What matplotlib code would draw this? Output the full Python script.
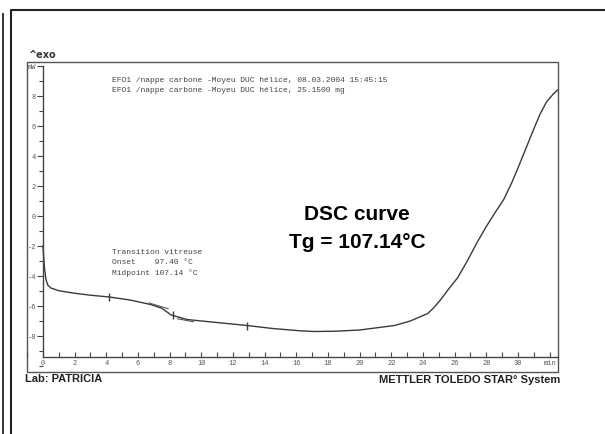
import numpy as np
import matplotlib.pyplot as plt
from matplotlib.patches import Rectangle
from matplotlib.lines import Line2D
from matplotlib.ticker import MultipleLocator, FixedLocator

# DSC curve (time in min, heat flow in mW)
time_min = [0.0, 0.08, 0.18, 0.3, 0.5, 1.0, 2.0, 3.0, 4.2, 5.5, 6.8, 7.5, 8.1,
            9.1, 10.5, 12.9, 14.5, 16.2, 17.1, 18.5, 20.0, 22.2, 23.2, 24.3,
            24.7, 25.1, 25.6, 26.2, 26.8, 27.4, 28.0, 28.6, 29.1, 29.6, 30.0,
            30.5, 31.0, 31.4, 31.8, 32.2, 32.5]
heat_flow = [-2.0, -3.3, -4.2, -4.6, -4.8, -4.98, -5.15, -5.28, -5.4, -5.6, -5.9,
             -6.15, -6.6, -6.9, -7.05, -7.3, -7.5, -7.65, -7.7, -7.68, -7.6,
             -7.3, -7.0, -6.5, -6.1, -5.6, -4.9, -4.1, -3.0, -1.8, -0.7, 0.3,
             1.1, 2.2, 3.2, 4.5, 5.8, 6.8, 7.6, 8.1, 8.4]

# small evaluation marks and tangents drawn on the curve
mark_t = [4.2, 8.2, 12.9]
mark_y = [-5.4, -6.6, -7.3]
tangent1_t = [6.7, 7.9]
tangent1_y = [-5.8, -6.18]
tangent2_t = [8.5, 9.5]
tangent2_y = [-6.85, -7.05]

y_ticks = [-8, -6, -4, -2, 0, 2, 4, 6, 8, 10]
y_labels = ["-8", "-6", "-4", "-2", "0", "2", "4", "6", "8", "mW"]
x_ticks = [0, 2, 4, 6, 8, 10, 12, 14, 16, 18, 20, 22, 24, 26, 28, 30, 32]
x_labels = [str(v) for v in x_ticks[:-1]] + ["min"]

header = ["EFO1 /nappe carbone -Moyeu DUC hélice, 08.03.2004 15:45:15",
          "EFO1 /nappe carbone -Moyeu DUC hélice, 25.1500 mg"]
transition = ["Transition vitreuse", "Onset    97.40 °C", "Midpoint 107.14 °C"]

W, H = 605, 434
fig = plt.figure(figsize=(W / 100, H / 100), dpi=100)


def px(x, y):
    return x / W, 1 - y / H


ax = fig.add_axes([27 / W, (H - 372) / H, (558 - 27) / W, (372 - 62) / H])
ax.set_xlim(-1.01, 32.53)
ax.set_ylim(-10.4, 10.27)

ax.plot(time_min, heat_flow, color="#3a3a3a", lw=1.0)
ax.plot(mark_t, mark_y, ls="none", marker="|", ms=6, mew=1.0, color="#3a3a3a")
ax.plot(tangent1_t, tangent1_y, color="#555555", lw=0.8)
ax.plot(tangent2_t, tangent2_y, color="#555555", lw=0.8)

for s in ["top", "right"]:
    ax.spines[s].set_visible(False)
ax.spines["left"].set_position(("data", 0))
ax.spines["bottom"].set_position(("data", -9.4))
ax.spines["left"].set_bounds(-9.4, 10)
ax.spines["bottom"].set_bounds(0, 32.53)
for s in ["left", "bottom"]:
    ax.spines[s].set_color("#444444")
    ax.spines[s].set_linewidth(1.0)

ax.yaxis.set_major_locator(FixedLocator(y_ticks))
ax.set_yticklabels(y_labels)
ax.yaxis.set_minor_locator(MultipleLocator(1))
ax.xaxis.set_major_locator(FixedLocator(x_ticks))
ax.set_xticklabels(x_labels)
ax.xaxis.set_minor_locator(MultipleLocator(1))
ax.tick_params(axis="y", which="both", direction="out", length=4, width=0.8,
               color="#444444", labelsize=5, labelcolor="#555555", pad=1)
ax.tick_params(axis="y", which="minor", length=3)
ax.tick_params(axis="x", which="both", direction="in", length=3.5, width=0.8,
               color="#444444", labelsize=5, labelcolor="#555555", pad=2)
for lab in ax.get_xticklabels() + ax.get_yticklabels():
    lab.set_family("Liberation Mono")

# chart frame
ax.add_patch(Rectangle((0, 0), 1, 1, transform=ax.transAxes, fill=False,
                       edgecolor="#555555", lw=1.0, clip_on=False))

for i, line in enumerate(header):
    ax.text((112 - 27) / (558 - 27), (372 - (80 + 10 * i)) / (372 - 62), line,
            transform=ax.transAxes, family="Liberation Mono", fontsize=5.8,
            color="#444444", va="center", ha="left")
for i, line in enumerate(transition):
    ax.text((112 - 27) / (558 - 27), (372 - (253 + 10 * i)) / (372 - 62), line,
            transform=ax.transAxes, family="Liberation Mono", fontsize=5.8,
            color="#444444", va="center", ha="left")

fig.text(*px(357, 215), "DSC curve", fontsize=15, fontweight="bold",
         family="Liberation Sans", ha="center", va="center")
fig.text(*px(357, 242), "Tg = 107.14°C", fontsize=15, fontweight="bold",
         family="Liberation Sans", ha="center", va="center")
fig.text(*px(28, 55), "^exo", fontsize=7, fontweight="bold",
         family="DejaVu Sans", color="#333333", ha="left", va="center")
fig.text(*px(25, 379), "Lab: PATRICIA", fontsize=8, fontweight="bold",
         family="Liberation Sans", color="#222222", ha="left", va="center")
fig.text(*px(560, 380), "METTLER TOLEDO STAR° System", fontsize=8,
         fontweight="bold", family="Liberation Sans", color="#222222",
         ha="right", va="center")

# scan border lines
fig.add_artist(Line2D([3 / W, 3 / W], [0, 1 - 14 / H], color="#222222", lw=1.3))
fig.add_artist(Line2D([11 / W, 11 / W, 1], [0, 1 - 10 / H, 1 - 10 / H],
                      color="#222222", lw=1.5))

fig.savefig("out.png", dpi=100)
